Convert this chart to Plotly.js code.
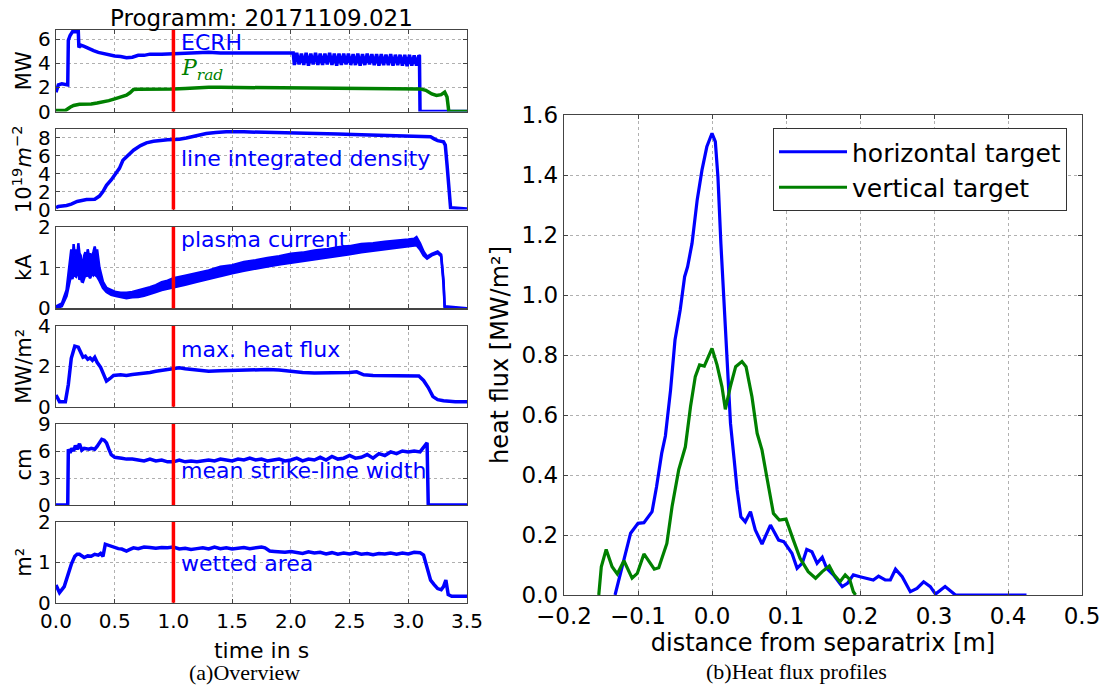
<!DOCTYPE html>
<html>
<head>
<meta charset="utf-8">
<script src="https://cdn.plot.ly/plotly-3.0.1.min.js"></script>
<style>html,body{margin:0;padding:0;background:#fff;}#chart{width:1104px;height:685px;}</style>
</head>
<body>
<div id="chart"></div>
<script>
// ---------------- data ----------------
var figTitle = "Programm: 20171109.021";
var markerTime = 1.0;

// ECRH power [MW]
var ecrhT = [0.0,0.02,0.05,0.08,0.10,0.105,0.12,0.14,0.19,0.195,0.21,0.24,0.28,0.32,0.36,0.40,0.45,0.50,0.55,0.60,0.65,0.70,0.75,0.80,0.90,1.00,1.10,1.20,1.30,1.40,1.50,1.60,1.70,1.80,1.90,2.00,2.02,
  2.03,2.05,2.07,2.09,2.11,2.13,2.15,2.17,2.19,2.21,2.23,2.25,2.27,2.29,2.31,2.33,2.35,2.37,2.39,2.41,2.43,2.45,2.47,2.49,2.51,2.53,2.55,2.57,2.59,2.61,2.63,2.65,2.67,2.69,2.71,2.73,2.75,2.77,2.79,2.81,2.83,2.85,2.87,2.89,2.91,2.93,2.95,2.97,2.99,3.01,3.03,3.05,3.07,3.09,
  3.095,3.10,3.50];
var ecrhV = [1.6,2.2,2.3,2.2,2.2,5.9,6.3,6.6,6.6,5.3,5.5,5.4,5.2,5.05,4.9,4.8,4.7,4.6,4.55,4.45,4.5,4.65,4.65,4.75,4.75,4.8,4.8,4.85,4.9,4.85,4.85,4.9,4.85,4.85,4.85,4.85,4.85,
  3.85,4.85,3.9,4.8,3.85,4.85,3.8,4.8,3.9,4.85,3.85,4.8,3.85,4.8,3.9,4.85,3.85,4.8,3.8,4.8,3.85,4.8,3.9,4.8,3.85,4.75,3.85,4.8,3.8,4.75,3.85,4.8,3.9,4.75,3.85,4.75,3.8,4.75,3.85,4.7,3.85,4.75,3.8,4.7,3.85,4.7,3.8,4.7,3.75,4.7,3.8,4.65,3.8,4.65,
  4.6,0.0,0.0];

// radiated power [MW]
var pradT = [0,0.08,0.12,0.15,0.2,0.25,0.3,0.35,0.4,0.45,0.5,0.55,0.6,0.63,0.66,0.7,0.8,0.9,1.0,1.1,1.2,1.3,1.4,1.5,1.6,1.8,2.0,2.2,2.4,2.6,2.8,3.0,3.1,3.15,3.2,3.24,3.28,3.31,3.33,3.345,3.5];
var pradV = [0.08,0.08,0.35,0.5,0.6,0.6,0.62,0.7,0.78,0.9,1.05,1.2,1.35,1.55,1.82,1.84,1.83,1.84,1.86,1.9,1.97,2.0,2.0,1.99,1.97,1.95,1.94,1.93,1.93,1.92,1.9,1.89,1.87,1.75,1.45,1.33,1.4,1.6,1.2,0.0,0.0];

// line integrated density [1e19 m^-2]
var denT = [0,0.02,0.09,0.13,0.18,0.22,0.26,0.33,0.37,0.40,0.43,0.47,0.50,0.54,0.57,0.62,0.66,0.72,0.77,0.83,0.89,0.95,1.0,1.05,1.11,1.2,1.28,1.36,1.45,1.6,1.8,2.0,2.2,2.4,2.6,2.8,3.0,3.19,3.22,3.25,3.3,3.315,3.33,3.345,3.36,3.5];
var denV = [0.2,0.34,0.45,0.6,0.9,1.05,1.12,1.15,1.5,2.0,2.7,3.3,3.8,4.6,5.5,6.2,6.63,7.15,7.45,7.62,7.75,7.8,7.83,7.85,8.0,8.3,8.5,8.62,8.69,8.68,8.64,8.58,8.5,8.43,8.35,8.28,8.22,8.13,7.9,7.7,7.56,7.2,5.0,2.0,0.2,0.05];

// plasma current [kA] (noisy band: lower and upper envelope)
var ipT  = [0,0.05,0.09,0.11,0.12,0.13,0.14,0.15,0.16,0.17,0.18,0.19,0.20,0.21,0.22,0.23,0.24,0.25,0.26,0.27,0.28,0.29,0.30,0.31,0.32,0.33,0.34,0.35,0.37,0.40,0.43,0.47,0.51,0.55,0.60,0.65,0.70,0.75,0.80,0.85,0.90,0.95,1.00,1.10,1.20,1.30,1.40,1.50,1.60,1.70,1.80,1.90,2.00,2.10,2.20,2.30,2.40,2.50,2.60,2.70,2.80,2.90,3.00,3.05,3.07,3.10,3.13,3.16,3.20,3.25,3.28,3.30,3.31,3.50];
var ipLo = [0,0.05,0.3,0.6,0.7,0.78,0.72,0.88,0.8,0.78,0.92,0.85,0.7,0.78,0.66,0.65,0.74,0.82,0.78,0.88,0.8,0.74,0.8,0.88,0.82,0.86,0.8,0.78,0.68,0.5,0.4,0.33,0.3,0.28,0.25,0.27,0.28,0.31,0.35,0.4,0.45,0.48,0.52,0.58,0.65,0.72,0.8,0.86,0.92,0.98,1.03,1.08,1.12,1.16,1.2,1.24,1.28,1.33,1.38,1.41,1.45,1.49,1.52,1.54,1.55,1.45,1.3,1.22,1.3,1.36,1.28,0.6,0,0];
var ipHi = [0.05,0.12,0.45,1.0,1.3,1.45,1.1,1.58,1.3,1.45,1.2,1.6,1.35,1.3,1.05,1.1,1.3,1.38,1.2,1.45,1.3,1.35,1.25,1.3,1.4,1.52,1.35,1.45,1.0,0.65,0.5,0.44,0.4,0.38,0.38,0.4,0.44,0.47,0.52,0.57,0.64,0.68,0.74,0.8,0.87,0.93,1.02,1.06,1.14,1.18,1.24,1.28,1.34,1.37,1.42,1.45,1.5,1.53,1.58,1.6,1.64,1.66,1.69,1.71,1.75,1.6,1.4,1.27,1.34,1.4,1.32,0.7,0.05,0];

// max. heat flux [MW/m2]
var hfT = [0,0.03,0.08,0.105,0.13,0.16,0.19,0.21,0.23,0.25,0.27,0.29,0.31,0.33,0.35,0.38,0.41,0.43,0.46,0.49,0.55,0.6,0.65,0.7,0.75,0.8,0.85,0.9,0.95,1.0,1.05,1.1,1.2,1.3,1.4,1.5,1.6,1.7,1.8,1.9,2.0,2.1,2.2,2.3,2.4,2.5,2.56,2.62,2.7,2.8,2.9,3.0,3.09,3.13,3.17,3.21,3.25,3.3,3.35,3.4,3.5];
var hfV = [0.58,0.25,0.25,1.1,2.4,3.0,2.95,2.7,2.45,2.5,2.35,2.42,2.3,2.45,2.2,1.95,1.55,1.27,1.4,1.55,1.58,1.55,1.6,1.62,1.65,1.7,1.76,1.8,1.88,1.92,1.93,1.88,1.82,1.76,1.78,1.8,1.82,1.84,1.84,1.82,1.74,1.7,1.67,1.68,1.66,1.7,1.73,1.58,1.55,1.54,1.53,1.53,1.52,1.3,0.95,0.5,0.35,0.3,0.27,0.25,0.25];

// mean strike-line width [cm]
var cmT = [0,0.09,0.10,0.105,0.12,0.135,0.15,0.165,0.18,0.20,0.22,0.24,0.26,0.28,0.30,0.33,0.35,0.37,0.39,0.41,0.43,0.45,0.47,0.50,0.53,0.56,0.60,0.65,0.70,0.75,0.80,0.85,0.90,0.95,1.00,1.05,1.10,1.15,1.20,1.25,1.30,1.35,1.40,1.45,1.50,1.55,1.60,1.65,1.70,1.75,1.80,1.85,1.90,1.95,2.00,2.05,2.10,2.15,2.20,2.25,2.30,2.35,2.40,2.45,2.50,2.55,2.60,2.65,2.70,2.75,2.80,2.85,2.90,2.95,3.00,3.05,3.10,3.13,3.16,3.17,3.50];
var cmV = [0,0,0,6.2,5.8,6.3,6.0,6.6,6.2,6.8,6.1,6.3,6.2,6.2,6.3,6.2,6.5,6.9,7.3,7.2,6.9,6.2,5.6,5.3,5.2,5.2,5.1,5.1,5.0,4.9,5.1,4.9,5.0,4.8,4.8,5.0,4.8,4.9,4.8,4.9,5.0,4.9,5.1,5.0,4.9,5.1,5.0,5.2,5.0,5.1,4.9,5.0,5.1,4.9,5.0,5.2,4.9,5.1,5.0,5.3,5.0,5.4,5.1,5.2,5.5,5.2,5.3,5.6,5.2,5.7,5.5,5.9,5.7,6.0,5.9,6.0,5.9,6.4,6.9,0,0];

// wetted area [m2]
var m2T = [0,0.03,0.07,0.10,0.13,0.16,0.18,0.20,0.22,0.24,0.27,0.30,0.33,0.36,0.38,0.40,0.42,0.44,0.47,0.50,0.53,0.56,0.60,0.63,0.66,0.70,0.75,0.80,0.85,0.90,0.95,1.00,1.05,1.10,1.15,1.20,1.25,1.30,1.35,1.40,1.45,1.50,1.55,1.60,1.65,1.70,1.75,1.78,1.82,1.86,1.90,1.95,2.00,2.05,2.10,2.15,2.20,2.25,2.30,2.35,2.40,2.45,2.50,2.55,2.60,2.65,2.70,2.75,2.80,2.85,2.90,2.95,3.00,3.05,3.10,3.13,3.16,3.19,3.22,3.25,3.28,3.30,3.32,3.34,3.37,3.50];
var m2V = [0.44,0.25,0.4,0.7,0.95,1.15,1.2,1.2,1.15,1.12,1.16,1.15,1.2,1.18,1.22,1.15,1.45,1.43,1.4,1.36,1.34,1.33,1.28,1.32,1.36,1.34,1.38,1.37,1.35,1.37,1.36,1.38,1.33,1.35,1.32,1.34,1.36,1.33,1.38,1.34,1.36,1.33,1.35,1.37,1.34,1.36,1.38,1.36,1.28,1.27,1.26,1.25,1.27,1.24,1.22,1.26,1.23,1.25,1.21,1.24,1.2,1.23,1.21,1.24,1.2,1.22,1.19,1.22,1.21,1.23,1.2,1.23,1.21,1.25,1.24,1.18,0.9,0.56,0.45,0.35,0.32,0.4,0.56,0.2,0.16,0.16];

// heat flux profiles
var htName = "horizontal target";
var htX = [-0.131,-0.119,-0.110,-0.100,-0.092,-0.081,-0.075,-0.068,-0.063,-0.056,-0.050,-0.043,-0.037,-0.033,-0.027,-0.020,-0.0135,-0.007,0.0,0.0045,0.008,0.012,0.0166,0.020,0.025,0.030,0.034,0.039,0.045,0.052,0.0585,0.0676,0.079,0.090,0.097,0.108,0.115,0.122,0.128,0.135,0.142,0.149,0.155,0.164,0.176,0.183,0.191,0.200,0.209,0.218,0.225,0.234,0.241,0.248,0.257,0.268,0.277,0.286,0.295,0.302,0.315,0.329,0.425];
var htY = [0,0.117,0.206,0.239,0.241,0.278,0.36,0.472,0.53,0.683,0.85,0.95,1.061,1.094,1.172,1.317,1.417,1.494,1.539,1.511,1.394,1.172,0.95,0.783,0.572,0.45,0.35,0.261,0.244,0.278,0.217,0.17,0.233,0.183,0.178,0.139,0.089,0.106,0.152,0.144,0.106,0.126,0.089,0.067,0.028,0.039,0.067,0.061,0.056,0.05,0.063,0.05,0.05,0.086,0.061,0.011,0.022,0.044,0.028,0.003,0.028,0.0,0.0];
var vtName = "vertical target";
var vtX = [-0.153,-0.1496,-0.143,-0.135,-0.128,-0.119,-0.108,-0.101,-0.092,-0.086,-0.078,-0.072,-0.061,-0.054,-0.045,-0.036,-0.029,-0.0226,-0.0168,-0.0104,0.0,0.0068,0.0135,0.018,0.0247,0.032,0.0405,0.046,0.054,0.061,0.0676,0.074,0.083,0.091,0.100,0.110,0.119,0.130,0.140,0.149,0.1585,0.165,0.173,0.180,0.186,0.191,0.194];
var vtY = [0,0.094,0.152,0.094,0.07,0.114,0.056,0.072,0.137,0.117,0.086,0.091,0.172,0.294,0.417,0.494,0.628,0.728,0.767,0.763,0.822,0.767,0.694,0.619,0.694,0.761,0.778,0.761,0.661,0.539,0.483,0.394,0.272,0.25,0.253,0.183,0.122,0.078,0.056,0.078,0.097,0.067,0.044,0.067,0.052,0.011,0];

// axis ticks / labels
var timeTicks = [0,0.5,1,1.5,2,2.5,3,3.5];
var panelLabels = ["ECRH","line integrated density","plasma current","max. heat flux","mean strike-line width","wetted area"];
var panelUnits = ["MW","10<sup>19</sup><i>m</i><sup>−2</sup>","kA","MW/m²","cm","m²"];
var panelRanges = [[0,6.75],[0,9],[0,2],[0,4],[0,9],[0,2]];
var panelTicks = [[0,2,4,6],[0,2,4,6,8],[0,1,2],[0,2,4],[0,3,6,9],[0,1,2]];
var distTicks = [-0.2,-0.1,0,0.1,0.2,0.3,0.4,0.5];
var fluxTicks = [0,0.2,0.4,0.6,0.8,1.0,1.2,1.4,1.6];

// ---------------- layout helpers ----------------
var W = 1104, H = 685;
function yd(top, bot){ return [1 - bot/H, 1 - top/H]; }
var panelPix = [[30,111.5],[129,209.5],[227,308.3],[326,406.7],[424,505],[522,602.7]];
var leftX = [56/W, 467/W];
var rightX = [564/W, 1082/W];
var BLUE = "#0000ff", GREEN = "#008000", RED = "#ff0000";
var FRAME = "#444444", GRID = "#b0b0b0";
var FONT = "DejaVu Sans, Verdana, sans-serif";

var traces = [];
var lw = 3.5;
traces.push({x: ecrhT, y: ecrhV, xaxis: "x", yaxis: "y", mode: "lines", line: {color: BLUE, width: lw}, showlegend: false, hoverinfo: "skip"});
traces.push({x: pradT, y: pradV, xaxis: "x", yaxis: "y", mode: "lines", line: {color: GREEN, width: lw}, showlegend: false, hoverinfo: "skip"});
traces.push({x: denT, y: denV, xaxis: "x2", yaxis: "y2", mode: "lines", line: {color: BLUE, width: lw}, showlegend: false, hoverinfo: "skip"});
traces.push({x: ipT, y: ipLo, xaxis: "x3", yaxis: "y3", mode: "lines", line: {color: BLUE, width: 2.5}, showlegend: false, hoverinfo: "skip"});
traces.push({x: ipT, y: ipHi, xaxis: "x3", yaxis: "y3", mode: "lines", line: {color: BLUE, width: 2.5}, fill: "tonexty", fillcolor: BLUE, showlegend: false, hoverinfo: "skip"});
traces.push({x: hfT, y: hfV, xaxis: "x4", yaxis: "y4", mode: "lines", line: {color: BLUE, width: lw}, showlegend: false, hoverinfo: "skip"});
traces.push({x: cmT, y: cmV, xaxis: "x5", yaxis: "y5", mode: "lines", line: {color: BLUE, width: lw}, showlegend: false, hoverinfo: "skip"});
traces.push({x: m2T, y: m2V, xaxis: "x6", yaxis: "y6", mode: "lines", line: {color: BLUE, width: lw}, showlegend: false, hoverinfo: "skip"});
traces.push({x: htX, y: htY, xaxis: "x7", yaxis: "y7", mode: "lines", name: htName, line: {color: BLUE, width: 3.2}});
traces.push({x: vtX, y: vtY, xaxis: "x7", yaxis: "y7", mode: "lines", name: vtName, line: {color: GREEN, width: 3.2}});

function baseAxis(extra){
  var a = {showline: true, linecolor: FRAME, linewidth: 1.3, mirror: "ticks",
    ticks: "inside", ticklen: 4, tickcolor: FRAME, showgrid: true, gridcolor: GRID, griddash: "dot", gridwidth: 1,
    zeroline: false, tickfont: {family: FONT, size: 20, color: "#000"}};
  for (var k in extra) a[k] = extra[k];
  return a;
}

var layout = {
  width: W, height: H, margin: {l: 0, r: 0, t: 0, b: 0},
  paper_bgcolor: "#fff", plot_bgcolor: "#fff",
  font: {family: FONT, color: "#000"},
  title: {text: figTitle, x: 261.5/W, xanchor: "center", xref: "paper", y: 1 - 18/H, yanchor: "middle", yref: "paper",
          font: {family: FONT, size: 23, color: "#000"}},
  showlegend: true,
  legend: {x: 773/W, y: 1 - 128/H, xanchor: "left", yanchor: "top", bgcolor: "#fff", bordercolor: "#333", borderwidth: 1,
           font: {family: FONT, size: 25, color: "#000"}, tracegroupgap: 0, traceorder: "normal", itemwidth: 68},
  annotations: [], shapes: []
};

for (var i = 0; i < 6; i++) {
  var n = i + 1;
  var xk = n === 1 ? "xaxis" : "xaxis" + n;
  var yk = n === 1 ? "yaxis" : "yaxis" + n;
  var yref = n === 1 ? "y" : "y" + n;
  var xref = n === 1 ? "x" : "x" + n;
  layout[xk] = baseAxis({domain: leftX, anchor: yref, range: [0, 3.5], tickvals: timeTicks, tickformat: ".1f",
    showticklabels: n === 6});
  if (n !== 6) layout[xk].matches = "x6";
  layout[yk] = baseAxis({domain: yd(panelPix[i][0], panelPix[i][1]), anchor: xref, range: panelRanges[i],
    tickvals: panelTicks[i], tickformat: "d",
    title: {text: panelUnits[i], standoff: 0, font: {family: FONT, size: 21, color: "#000"}}});
  layout.shapes.push({type: "line", xref: xref, yref: yref + " domain", x0: markerTime, x1: markerTime, y0: 0, y1: 1,
    line: {color: RED, width: 3.5}, layer: "above"});
}
layout.xaxis6.title = {text: "time in s", standoff: 10, font: {family: FONT, size: 22, color: "#000"}};

layout.xaxis7 = baseAxis({domain: rightX, anchor: "y7", range: [-0.2, 0.5], tickvals: distTicks, tickformat: ".1f",
  tickfont: {family: FONT, size: 23, color: "#000"},
  title: {text: "distance from separatrix [m]", standoff: 1, font: {family: FONT, size: 24, color: "#000"}}});
layout.yaxis7 = baseAxis({domain: yd(115, 595), anchor: "x7", range: [0, 1.6], tickvals: fluxTicks, tickformat: ".1f",
  tickfont: {family: FONT, size: 23, color: "#000"},
  title: {text: "heat flux [MW/m²]", standoff: 6, font: {family: FONT, size: 24, color: "#000"}}});

// in-panel labels
var labelY = [5.7, 5.7, 1.69, 2.85, 3.78, 0.98];
for (var j = 0; j < 6; j++) {
  var r = j === 0 ? "" : String(j + 1);
  layout.annotations.push({text: panelLabels[j], xref: "x" + r, yref: "y" + r, x: 1.05, y: labelY[j],
    xanchor: "left", yanchor: "middle", showarrow: false, font: {family: FONT, size: 22, color: BLUE}});
}
layout.annotations.push({text: "<i>P</i><sub><i>rad</i></sub>", xref: "x", yref: "y", x: 1.05, y: 3.5,
  xanchor: "left", yanchor: "middle", showarrow: false, font: {family: "DejaVu Serif, serif", size: 22, color: GREEN}});
// captions
layout.annotations.push({text: "(a)Overview", xref: "paper", yref: "paper", x: 245/W, y: 1 - 672/H,
  xanchor: "center", yanchor: "middle", showarrow: false, font: {family: "Liberation Serif, serif", size: 22, color: "#000"}});
layout.annotations.push({text: "(b)Heat flux profiles", xref: "paper", yref: "paper", x: 796/W, y: 1 - 671/H,
  xanchor: "center", yanchor: "middle", showarrow: false, font: {family: "Liberation Serif, serif", size: 22, color: "#000"}});

Plotly.newPlot("chart", traces, layout, {staticPlot: true, displayModeBar: false});
</script>
</body>
</html>
